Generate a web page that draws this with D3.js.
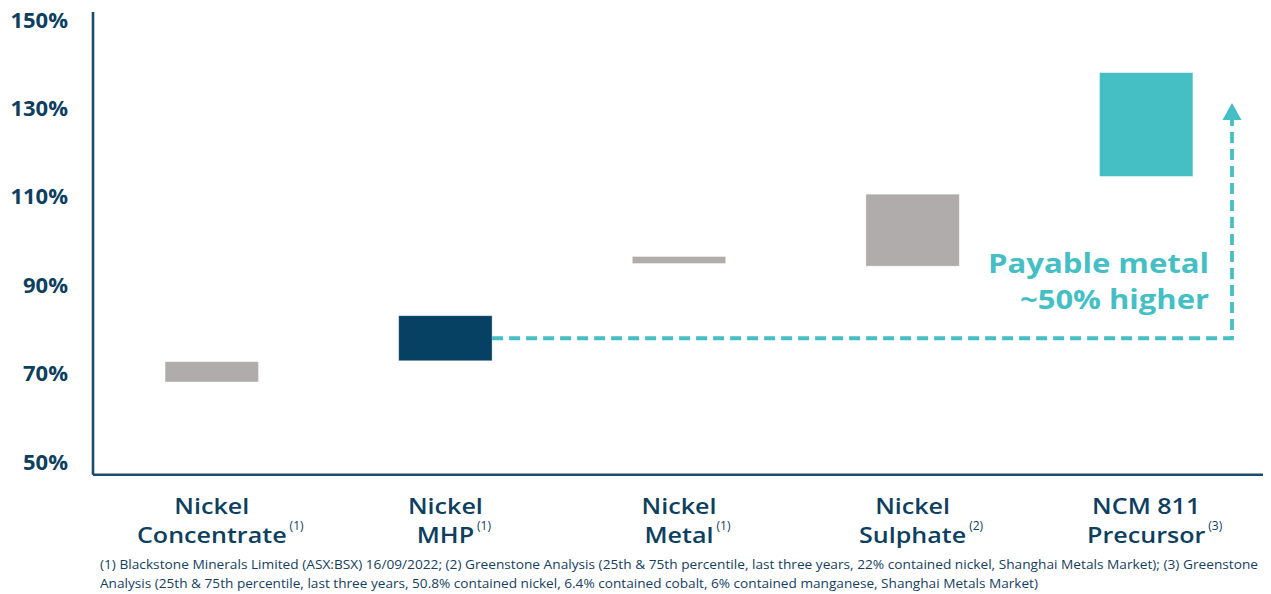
<!DOCTYPE html>
<html>
<head>
<meta charset="utf-8">
<script src="https://cdn.jsdelivr.net/npm/d3@7/dist/d3.min.js"></script>
<style>
  html, body { margin: 0; padding: 0; background: #ffffff; }
  svg { display: block; }
</style>
</head>
<body>
<svg id="chart" width="1271" height="594"></svg>
<script>
// ---- data ----
const categories = ["Nickel Concentrate", "Nickel MHP", "Nickel Metal", "Nickel Sulphate", "NCM 811 Precursor"];
const labelLine1 = ["Nickel", "Nickel", "Nickel", "Nickel", "NCM 811"];
const labelLine2 = ["Concentrate", "MHP", "Metal", "Sulphate", "Precursor"];
const footRefs = ["(1)", "(1)", "(1)", "(2)", "(3)"];
const lowValues = [68.1, 72.9, 94.9, 94.3, 114.6];   // 25th percentile (% payable)
const highValues = [72.7, 83.1, 96.5, 110.6, 138.1]; // 75th percentile (% payable)
const barKind = ["other", "mhp", "other", "other", "precursor"];
const yTicks = [50, 70, 90, 110, 130, 150];
const arrowFrom = 78;    // MHP midpoint
const arrowTo = 131.2;   // arrow tip
const annotation = ["Payable metal", "~50% higher"];
const footnotes = [
  "(1) Blackstone Minerals Limited (ASX:BSX) 16/09/2022; (2) Greenstone Analysis (25th & 75th percentile, last three years, 22% contained nickel, Shanghai Metals Market); (3) Greenstone",
  "Analysis (25th & 75th percentile, last three years, 50.8% contained nickel, 6.4% contained cobalt, 6% contained manganese, Shanghai Metals Market)"
];

// ---- style ----
const navy = "#0E3F5F";
const axisColor = "#1A4A6E";
const colors = { other: "#B0ACAB", mhp: "#064164", precursor: "#45BFC4" };
const teal = "#45BFC4";

const svg = d3.select("#chart");

const y = d3.scaleLinear().domain([50, 150]).range([462, 20]);
const x = d3.scaleBand().domain(categories).range([95, 1263]).paddingInner(0.6).paddingOuter(0.3);

const axisX = 93;
const baseY = y(47.1);
const topY = y(151.8);

// y axis labels
const yAxis = d3.axisLeft(y).tickValues(yTicks).tickSize(0).tickPadding(25).tickFormat(d => d + "%");
const gy = svg.append("g").attr("transform", `translate(${axisX},0)`).call(yAxis);
gy.select(".domain").remove();
gy.selectAll("text")
  .attr("fill", navy)
  .style("font-family", "'Open Sans', sans-serif")
  .style("font-weight", 700)
  .style("font-size", "22px");

// axis lines
svg.append("line").attr("x1", axisX).attr("x2", axisX).attr("y1", topY).attr("y2", baseY)
  .attr("stroke", axisColor).attr("stroke-width", 2.6);
svg.append("line").attr("x1", axisX).attr("x2", x.range()[1]).attr("y1", baseY).attr("y2", baseY)
  .attr("stroke", axisColor).attr("stroke-width", 2.6);

// bars (floating ranges)
svg.append("g").selectAll("rect")
  .data(categories)
  .join("rect")
  .attr("x", d => x(d))
  .attr("width", x.bandwidth())
  .attr("y", (d, i) => y(highValues[i]))
  .attr("height", (d, i) => y(lowValues[i]) - y(highValues[i]))
  .attr("fill", (d, i) => colors[barKind[i]])
  .attr("stroke", "#ffffff").attr("stroke-opacity", 0.5).attr("stroke-width", 0.8);

// dashed arrow
const arrowX = x.range()[1] - 31;
const ay0 = y(arrowFrom);
const tipY = y(arrowTo);
const headH = 17, headW = 19;
svg.append("path")
  .attr("d", `M${x(categories[1]) + x.bandwidth()},${ay0} H${arrowX} V${tipY + headH}`)
  .attr("fill", "none").attr("stroke", teal).attr("stroke-width", 3.8)
  .attr("stroke-dasharray", "11,6");
svg.append("path")
  .attr("d", `M${arrowX},${tipY} L${arrowX + headW / 2},${tipY + headH} L${arrowX - headW / 2},${tipY + headH} Z`)
  .attr("fill", teal);

// annotation text
const annBaselines = [273, 309];
const annWidths = [221, 189];
annotation.forEach((t, i) => {
  svg.append("text")
    .attr("x", 1209).attr("y", annBaselines[i])
    .attr("text-anchor", "end")
    .attr("fill", teal)
    .attr("textLength", annWidths[i])
    .attr("lengthAdjust", "spacingAndGlyphs")
    .style("font-family", "'Open Sans', sans-serif")
    .style("font-weight", 700)
    .style("font-size", "26px")
    .text(t);
});

// x labels (stretched slightly to match the wide geometric face of the original)
const stretch = 1.14;
const gx = svg.append("g");
function wideText(cx, yy, t) {
  const el = gx.append("text").attr("x", cx).attr("y", yy).attr("text-anchor", "middle")
    .attr("fill", navy)
    .style("font-family", "'Open Sans', sans-serif").style("font-weight", 600).style("font-size", "22px")
    .text(t);
  const w = el.node().getComputedTextLength() * stretch;
  el.attr("textLength", w).attr("lengthAdjust", "spacingAndGlyphs");
  return w;
}
categories.forEach((c, i) => {
  const cx = x(c) + x.bandwidth() / 2;
  wideText(cx, 514, labelLine1[i]);
  const wl = wideText(cx, 543, labelLine2[i]);
  gx.append("text").attr("x", cx + wl / 2 + 3).attr("y", 530)
    .attr("fill", navy)
    .style("font-family", "'Open Sans', sans-serif").style("font-size", "12px")
    .text(footRefs[i]);
});

// footnotes
const footY = [569, 588];
const footW = [1158, 938];
footnotes.forEach((t, i) => {
  svg.append("text").attr("x", 100).attr("y", footY[i])
    .attr("fill", "#163E5E")
    .attr("textLength", footW[i]).attr("lengthAdjust", "spacingAndGlyphs")
    .style("font-family", "'Open Sans', sans-serif").style("font-size", "13px")
    .text(t);
});
</script>
</body>
</html>
